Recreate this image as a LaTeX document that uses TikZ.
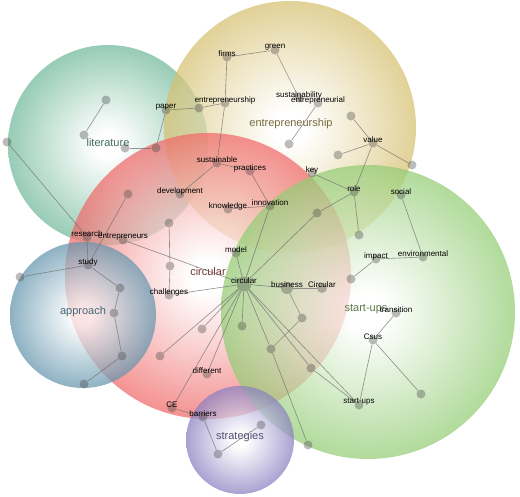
\documentclass[tikz,border=0pt]{standalone}
\usepackage{fontspec}
\setmainfont{Liberation Sans}
\usepackage{tikz}
\definecolor{litcol}{RGB}{112,184,154}
\definecolor{entcol}{RGB}{214,192,112}
\definecolor{circcol}{RGB}{240,104,104}
\definecolor{startcol}{RGB}{146,204,116}
\definecolor{appcol}{RGB}{98,148,172}
\definecolor{stratcol}{RGB}{136,126,192}
\colorlet{clustcol}{gray}
\pgfdeclareradialshading[clustcol]{clusterglow}{\pgfpoint{0bp}{0bp}}{%
  color(0bp)=(white); color(3bp)=(white); color(12bp)=(clustcol!40!white);
  color(25bp)=(clustcol); color(50bp)=(clustcol)}
\tikzset{
  kwdot/.style     = {circle,fill=gray!50!black,fill opacity=.35,inner sep=0pt,minimum size=9pt},
  kwtext/.style    = {font=\fontsize{8}{9}\selectfont,text=black,inner sep=0pt,yshift=3pt},
  kwlink/.style    = {draw=gray!85!black,line width=.65pt,opacity=.7},
  clusterfill/.style = {shading=clusterglow,fill opacity=.72},
  clustertext/.style = {font=\fontsize{11}{12}\selectfont,inner sep=0pt}}

\begin{document}
\begin{tikzpicture}[x=1pt,y=-1pt]
  \useasboundingbox (0,0) rectangle (520,496);
  \foreach \cx/\cy/\r/\col in {108/145/100/litcol,290/127/126/entcol,208/276/143/circcol,
                               83/315/73/appcol,368/312/147/startcol,240/440/54/stratcol}{%
    \colorlet{clustcol}{\col}
    \shade[clusterfill] (\cx,\cy) circle (\r pt);
  }
  \node[clustertext,text=litcol!60!black]   (lit)   at (108,143) {literature};
  \node[clustertext,text=entcol!55!black]   (ent)   at (291,124) {entrepreneurship};
  \node[clustertext,text=circcol!50!black]  (circl) at (208,272) {circular};
  \node[clustertext,text=startcol!60!black] (strt)  at (366,309) {start-ups};
  \node[clustertext,text=appcol!70!black]   (appr)  at (83,312)  {approach};
  \node[clustertext,text=stratcol!60!black] (strat) at (240,437) {strategies};
  \foreach \nm/\x/\y in {firms/227/57,green/275/50,paper/166/110,pa1/199/108,entre/225/103,
      li1/106/100,li2/84/135,li3/125/148,li4/156/148,li5/7/142,sust/217/163,pract/250/171,
      devel/180/194,knowl/228/209,innov/270/206,ci1/128/194,ci2/169/223,res/87/237,
      entrs/123/240,model/236/253,sustb/299/98,entrl/318/103,en1/351/116,en2/289/144,
      value/373/143,en3/338/155,en4/412/165,key/312/173,role/354/192,social/401/195,
      en5/317/213,en6/359/235,impact/376/259,envir/423/257,st1/351/279,
      trans/396/313,csus/373/340,st2/302/318,st3/271/349,st4/311/368,startups/359/405,
      st5/421/394,st6/308/445,sg1/261/425,study/88/265,ap1/20/277,ap2/120/288,ap3/114/313,
      ap4/122/356,ap5/84/384,ci3/170/266,chall/169/295,ci4/242/326,ci5/202/329,
      ci6/160/356,diff/207/374,ce/172/408,barr/203/417,sg2/218/454}{%
    \node[kwdot] (\nm) at (\x,\y) {};
  }
  \node[kwdot,minimum size=12pt] (busi) at (287,288) {};
  \node[kwdot,minimum size=10pt] (Circ) at (322,288) {};
  \node[kwdot,minimum size=15pt] (circ) at (244,284) {};
  \foreach \a/\b in {firms/green,firms/entre,entre/sust,paper/pa1,pa1/entre,paper/li4,li4/li3,
      li1/li2,li5/res,green/sustb,entrl/en2,en1/value,value/en3,value/en4,value/role,key/role,
      role/en5,en5/circ,role/en6,social/envir,envir/impact,impact/st1,sust/pract,sust/devel,
      pract/innov,knowl/innov,innov/circ,ci1/study,ci2/ci3,ci3/chall,chall/circ,entrs/circ,
      res/study,study/ap1,study/ap2,ap2/ap3,ap3/ap4,ap4/ap5,circ/model,circ/busi,busi/Circ,
      busi/st2,st2/st3,circ/ci4,circ/ci5,circ/ci6,circ/diff,circ/ce,ce/barr,barr/sg2,sg2/sg1,
      circ/st3,st3/st6,circ/st4,st4/startups,circ/startups,startups/csus,csus/trans,csus/st5}{%
    \draw[kwlink] (\a) -- (\b);
  }
  \foreach \nm/\txt in {firms/firms,green/green,paper/paper,entre/entrepreneurship,
      sust/sustainable,pract/practices,devel/development,knowl/knowledge,innov/innovation,
      res/research,entrs/entrepreneurs,model/model,sustb/sustainability,entrl/entrepreneurial,
      value/value,key/key,role/role,social/social,impact/impact,envir/environmental,
      busi/business,Circ/Circular,trans/transition,csus/Csus,startups/start-ups,study/study,
      chall/challenges,circ/circular,diff/different,ce/CE,barr/barriers}{%
    \node[kwtext] (\nm-t) at (\nm) {\txt};
  }
\end{tikzpicture}
\end{document}
